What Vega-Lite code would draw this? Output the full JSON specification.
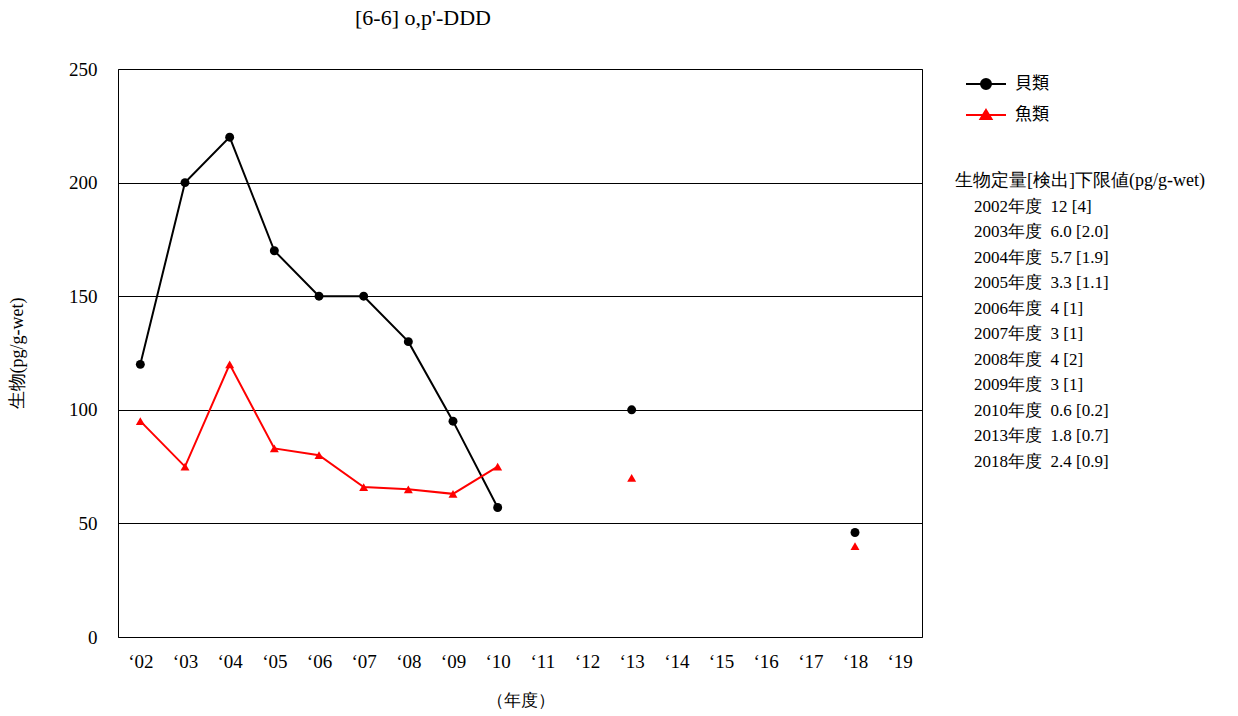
{
  "$schema": "https://vega.github.io/schema/vega-lite/v6.json",
  "width": 804,
  "height": 568,
  "autosize": "none",
  "padding": {"left": 118, "top": 69, "right": 316, "bottom": 79},
  "background": "white",
  "title": {
    "text": "[6-6] o,p'-DDD",
    "font": "Liberation Serif",
    "fontSize": 22,
    "fontWeight": "normal",
    "color": "black",
    "anchor": "start",
    "frame": "group",
    "dx": 237,
    "offset": 30
  },
  "config": {
    "font": "Liberation Serif",
    "view": {"stroke": "black", "strokeWidth": 1},
    "axis": {
      "labelFont": "Liberation Serif",
      "labelFontSize": 19,
      "labelColor": "black",
      "titleFont": "Liberation Serif",
      "titleFontSize": 17,
      "titleFontWeight": "normal",
      "titleColor": "black",
      "domain": false,
      "ticks": false
    },
    "legend": {
      "labelFont": "Liberation Serif",
      "labelColor": "black",
      "titleFont": "Liberation Serif",
      "titleColor": "black",
      "titleFontWeight": "normal"
    }
  },
  "resolve": {"scale": {"shape": "independent"}},
  "layer": [
    {
      "data": {
        "values": [
          {"note": "2002年度\u200212 [4]"},
          {"note": "2003年度\u20026.0 [2.0]"},
          {"note": "2004年度\u20025.7 [1.9]"},
          {"note": "2005年度\u20023.3 [1.1]"},
          {"note": "2006年度\u20024 [1]"},
          {"note": "2007年度\u20023 [1]"},
          {"note": "2008年度\u20024 [2]"},
          {"note": "2009年度\u20023 [1]"},
          {"note": "2010年度\u20020.6 [0.2]"},
          {"note": "2013年度\u20021.8 [0.7]"},
          {"note": "2018年度\u20022.4 [0.9]"}
        ]
      },
      "mark": {"type": "point", "opacity": 0},
      "encoding": {
        "strokeDash": {
          "field": "note",
          "type": "nominal",
          "scale": {"domain": ["2002年度\u200212 [4]", "2003年度\u20026.0 [2.0]", "2004年度\u20025.7 [1.9]", "2005年度\u20023.3 [1.1]", "2006年度\u20024 [1]", "2007年度\u20023 [1]", "2008年度\u20024 [2]", "2009年度\u20023 [1]", "2010年度\u20020.6 [0.2]", "2013年度\u20021.8 [0.7]", "2018年度\u20022.4 [0.9]"]},
          "legend": {
            "title": "生物定量[検出]下限値(pg/g-wet)",
            "orient": "none",
            "legendX": 837,
            "legendY": 103,
            "padding": 0,
            "titleFontSize": 18,
            "titleLimit": 400,
            "titlePadding": 8,
            "labelFontSize": 17,
            "labelLimit": 300,
            "symbolType": "circle",
            "symbolSize": 64,
            "symbolOpacity": 0,
            "symbolStrokeWidth": 0,
            "labelOffset": 2,
            "rowPadding": 7.5,
            "symbolLimit": 30
          }
        }
      }
    },
    {
      "data": {
        "values": [
          {"year": "‘02", "series": "貝類", "run": 1, "value": 120},
          {"year": "‘03", "series": "貝類", "run": 1, "value": 200},
          {"year": "‘04", "series": "貝類", "run": 1, "value": 220},
          {"year": "‘05", "series": "貝類", "run": 1, "value": 170},
          {"year": "‘06", "series": "貝類", "run": 1, "value": 150},
          {"year": "‘07", "series": "貝類", "run": 1, "value": 150},
          {"year": "‘08", "series": "貝類", "run": 1, "value": 130},
          {"year": "‘09", "series": "貝類", "run": 1, "value": 95},
          {"year": "‘10", "series": "貝類", "run": 1, "value": 57},
          {"year": "‘13", "series": "貝類", "run": 2, "value": 100},
          {"year": "‘18", "series": "貝類", "run": 3, "value": 46},
          {"year": "‘02", "series": "魚類", "run": 1, "value": 95},
          {"year": "‘03", "series": "魚類", "run": 1, "value": 75},
          {"year": "‘04", "series": "魚類", "run": 1, "value": 120},
          {"year": "‘05", "series": "魚類", "run": 1, "value": 83},
          {"year": "‘06", "series": "魚類", "run": 1, "value": 80},
          {"year": "‘07", "series": "魚類", "run": 1, "value": 66},
          {"year": "‘08", "series": "魚類", "run": 1, "value": 65},
          {"year": "‘09", "series": "魚類", "run": 1, "value": 63},
          {"year": "‘10", "series": "魚類", "run": 1, "value": 75},
          {"year": "‘13", "series": "魚類", "run": 2, "value": 70},
          {"year": "‘18", "series": "魚類", "run": 3, "value": 40}
        ]
      },
      "encoding": {
        "x": {
          "field": "year",
          "type": "ordinal",
          "scale": {"type": "point", "padding": 0.5, "domain": ["‘02", "‘03", "‘04", "‘05", "‘06", "‘07", "‘08", "‘09", "‘10", "‘11", "‘12", "‘13", "‘14", "‘15", "‘16", "‘17", "‘18", "‘19"]},
          "axis": {"title": "（年度）", "labelAngle": 0, "labelPadding": 15, "titlePadding": 21, "grid": false}
        },
        "y": {
          "field": "value",
          "type": "quantitative",
          "scale": {"domain": [0, 250], "nice": false},
          "axis": {"title": "生物(pg/g-wet)", "titleFontSize": 18, "values": [0, 50, 100, 150, 200, 250], "labelPadding": 21, "titlePadding": 42, "grid": true, "gridColor": "black", "gridOpacity": 1, "gridWidth": 1}
        },
        "color": {
          "field": "series",
          "type": "nominal",
          "scale": {"domain": ["貝類", "魚類"], "range": ["black", "red"]},
          "legend": {
            "title": null,
            "orient": "none",
            "legendX": 857,
            "legendY": 4,
            "padding": 0,
            "labelFont": "Noto Sans CJK JP",
            "labelFontSize": 17,
            "symbolSize": 400,
            "labelOffset": 18,
            "rowPadding": 11,
            "symbolStrokeWidth": 2,
            "encode": {
              "symbols": {
                "update": {
                  "shape": {"signal": "datum.value === '貝類' ? 'M-2,0L2,0M0.5,0A0.5,0.5,0,1,1,-0.5,0A0.5,0.5,0,1,1,0.5,0Z' : 'M-2,0L2,0M0,-0.5L0.55,0.4L-0.55,0.4Z'"},
                  "fill": {"scale": "color", "field": "value"},
                  "stroke": {"scale": "color", "field": "value"},
                  "strokeWidth": {"value": 2},
                  "opacity": {"value": 1}
                }
              }
            }
          }
        }
      },
      "layer": [
        {
          "mark": {"type": "line", "strokeWidth": 2},
          "encoding": {"detail": {"field": "run", "type": "nominal"}}
        },
        {
          "mark": {"type": "point", "filled": true, "opacity": 1, "size": 80},
          "encoding": {
            "shape": {
              "field": "series",
              "type": "nominal",
              "scale": {"domain": ["貝類", "魚類"], "range": ["circle", "triangle-up"]},
              "legend": null
            }
          }
        }
      ]
    }
  ]
}
